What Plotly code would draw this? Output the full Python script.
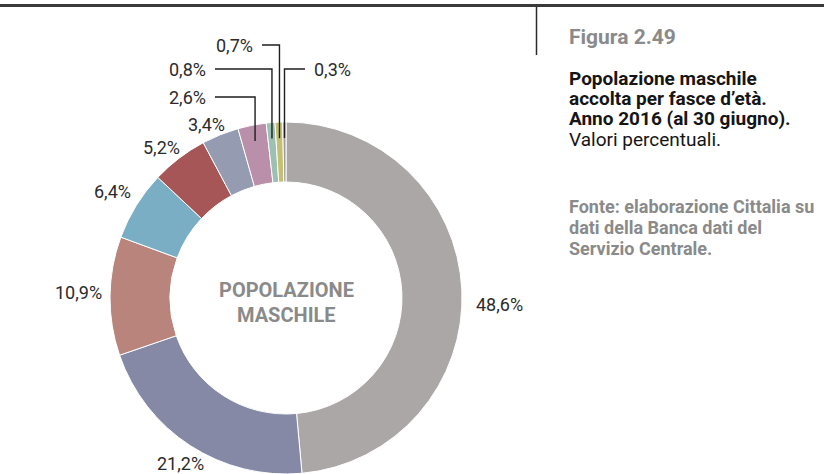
import math
import plotly.graph_objects as go

# Male population hosted, by age band (percent)
fasce = ["48,6", "21,2", "10,9", "6,4", "5,2", "3,4", "2,6", "0,8", "0,7", "0,3"]
valori = [48.6, 21.2, 10.9, 6.4, 5.2, 3.4, 2.6, 0.8, 0.7, 0.3]
colori = ["#aba7a6", "#8589a5", "#b8847b", "#7aaec4", "#a65657",
          "#959bb0", "#b98fa9", "#9cc0b2", "#c5c070", "#a09c9b"]

W, H = 824, 474
CX, CY, R_OUT, HOLE = 286, 298, 176, 0.659
FONT = "Roboto, Liberation Sans, Arial, sans-serif"


def px(x):
    return x / W


def py(y):
    return 1 - y / H


def etichetta(v):
    return f"{v:.1f}".replace(".", ",") + "%"


# mid-angle of each slice (clockwise from 12 o'clock), degrees
totale = sum(valori)
mid_ang = []
acc = 0.0
for v in valori:
    mid_ang.append((acc + v / 2) / totale * 360)
    acc += v


def on_ring(i, r):
    a = math.radians(mid_ang[i])
    return CX + r * math.sin(a), CY - r * math.cos(a)


fig = go.Figure(go.Pie(
    values=valori,
    labels=fasce,
    sort=False,
    direction="clockwise",
    rotation=0,
    hole=HOLE,
    marker=dict(colors=colori, line=dict(color="white", width=1)),
    textinfo="none",
    hoverinfo="label+value",
    showlegend=False,
    domain=dict(x=[px(CX - R_OUT), px(CX + R_OUT)],
                y=[py(CY + R_OUT), py(CY - R_OUT)]),
))

annotations = []
shapes = []
LABEL_FONT = dict(family=FONT, size=18, color="#2b2b2b")

# labels placed directly around the ring
label_pos = {0: (500, 304), 1: (180, 463), 2: (78, 292), 3: (112, 191),
             4: (161, 148), 5: (206, 124)}
for i, (lx, ly) in label_pos.items():
    annotations.append(dict(x=px(lx), y=py(ly), xref="paper", yref="paper",
                            text=etichetta(valori[i]), showarrow=False,
                            xanchor="center", yanchor="middle",
                            font=LABEL_FONT))

# small slices: elbow leader lines (row y, line end x, side)
leader = {6: (97, 215, "left"), 7: (69, 215, "left"),
          8: (45, 262, "left"), 9: (69, 305, "right")}
for i, (ly, lx, side) in leader.items():
    ex, ey = on_ring(i, 160)
    shapes.append(dict(type="path", xref="paper", yref="paper",
                       path=f"M {px(lx)} {py(ly)} L {px(ex)} {py(ly)} L {px(ex)} {py(ey)}",
                       line=dict(color="#1e1e1e", width=1.4)))
    tx = lx - 7 if side == "left" else lx + 7
    annotations.append(dict(x=px(tx), y=py(ly), xref="paper", yref="paper",
                            text=etichetta(valori[i]), showarrow=False,
                            xanchor="right" if side == "left" else "left",
                            yanchor="middle", font=LABEL_FONT))

# centre caption
for txt, y in (("POPOLAZIONE", 290), ("MASCHILE", 315)):
    annotations.append(dict(x=px(CX), y=py(y), xref="paper", yref="paper",
                            text=f"<b>{txt}</b>", showarrow=False,
                            xanchor="center", yanchor="middle",
                            font=dict(family=FONT, size=20, color="#8a8a8a")))

# side panel text
side = [
    ("<b>Figura 2.49</b>", 37, 21, "#8a8a8a"),
    ("<b>Popolazione maschile</b>", 78, 19, "#151515"),
    ("<b>accolta per fasce d’età.</b>", 98, 19, "#151515"),
    ("<b>Anno 2016 (al 30 giugno).</b>", 119, 19, "#151515"),
    ("Valori percentuali.", 139, 19, "#151515"),
    ("<b>Fonte: elaborazione Cittalia su</b>", 206, 18, "#8a8a8a"),
    ("<b>dati della Banca dati del</b>", 227, 18, "#8a8a8a"),
    ("<b>Servizio Centrale.</b>", 248, 18, "#8a8a8a"),
]
for txt, y, size, col in side:
    annotations.append(dict(x=px(567), y=py(y), xref="paper", yref="paper",
                            text=txt, showarrow=False,
                            xanchor="left", yanchor="middle",
                            font=dict(family=FONT, size=size, color=col)))

# top rule and panel divider
shapes.append(dict(type="line", xref="paper", yref="paper",
                   x0=0, x1=1, y0=py(5.5), y1=py(5.5),
                   line=dict(color="#3a3a3a", width=3)))
shapes.append(dict(type="line", xref="paper", yref="paper",
                   x0=px(536.5), x1=px(536.5), y0=py(7), y1=py(55),
                   line=dict(color="#2a2a2a", width=1.5)))

fig.update_layout(
    width=W, height=H,
    margin=dict(l=0, r=0, t=0, b=0),
    paper_bgcolor="white",
    plot_bgcolor="white",
    annotations=annotations,
    shapes=shapes,
)

fig.write_html("out.html")
